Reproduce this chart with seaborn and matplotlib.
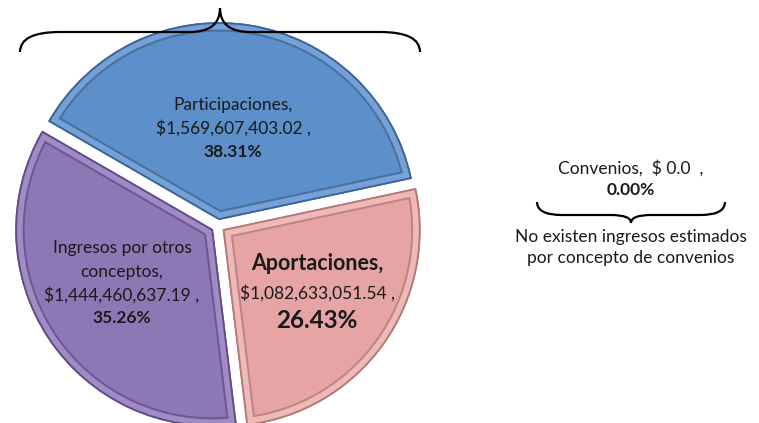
import numpy as np
import matplotlib.pyplot as plt
import seaborn as sns
from matplotlib.path import Path
from matplotlib.patches import PathPatch, Wedge

# datos del grafico
conceptos = ["Participaciones", "Aportaciones", "Ingresos por otros conceptos", "Convenios"]
montos = [1569607403.02, 1082633051.54, 1444460637.19, 0.0]
porcentajes = [38.31, 26.43, 35.26, 0.00]
montos_txt = ["$1,569,607,403.02 ,", "$1,082,633,051.54 ,", "$1,444,460,637.19 ,", "$ 0.0"]

colores = ["#5D8FCA", "#E6A5A4", "#8D77B5"]
bordes = ["#3B659A", "#B27A79", "#5F4D88"]
bandas = ["#75A1D6", "#EFB9B8", "#A08BC4"]
lineas = ["#45709F", "#BC8584", "#6A5896"]

sns.set_theme(style="white")
plt.rcParams['font.family'] = ['Lato', 'DejaVu Sans']

W, H = 759, 423
fig = plt.figure(figsize=(W / 100, H / 100), dpi=100)
ax = fig.add_axes([0, 0, 1, 1])

def Y(y):
    return H - y

centro = (218, Y(226))
radio = 196
sep = 7  # pixeles

vals = [m for m in montos if m > 0]
wedges, _ = ax.pie(vals, colors=colores, startangle=150, counterclock=False,
                   center=centro, radius=radio, explode=[sep] * len(vals),
                   wedgeprops=dict(linewidth=1.3))

# bisel: franja clara y linea oscura por dentro de cada porcion
px = 0.72
for w, b, c1, c2 in zip(wedges, bordes, bandas, lineas):
    w.set_edgecolor(b)
    for lw, col in [(17 * px, c2), (13 * px, c1)]:
        p = Wedge(w.center, w.r, w.theta1, w.theta2, facecolor="none",
                  edgecolor=col, linewidth=lw, joinstyle="miter")
        ax.add_patch(p)
        p.set_clip_path(w)
    p = Wedge(w.center, w.r, w.theta1, w.theta2, facecolor="none",
              edgecolor=b, linewidth=1.3)
    ax.add_patch(p)

ax.set_xlim(0, W)
ax.set_ylim(0, H)
ax.set_aspect('equal')
ax.axis('off')


def llave(x0, x1, y_fin, y_linea, y_punta, r1, r2):
    xm = (x0 + x1) / 2
    pts = [(x0, y_fin), (x0, y_linea), (x0 + r1, y_linea),
           (xm - r2, y_linea),
           (xm, y_linea), (xm, y_punta),
           (xm, y_linea), (xm + r2, y_linea),
           (x1 - r1, y_linea),
           (x1, y_linea), (x1, y_fin)]
    codes = [Path.MOVETO, Path.CURVE3, Path.CURVE3, Path.LINETO,
             Path.CURVE3, Path.CURVE3, Path.CURVE3, Path.CURVE3,
             Path.LINETO, Path.CURVE3, Path.CURVE3]
    pts = [(x, Y(y)) for x, y in pts]
    ax.add_patch(PathPatch(Path(pts, codes), fill=False, lw=1.6, color="black"))


llave(20, 420, 52, 32, 8, 40, 30)
llave(537, 725, 202, 215, 223, 25, 20)

tc = "#1a1a1a"
fs = 12.5
# Participaciones
ax.text(233, Y(105), conceptos[0] + ",", ha="center", va="center", fontsize=fs, color=tc)
ax.text(233, Y(128), montos_txt[0], ha="center", va="center", fontsize=fs, color=tc)
ax.text(233, Y(152), f"{porcentajes[0]:.2f}%", ha="center", va="center", fontsize=fs,
        fontweight="bold", color=tc)

# Ingresos por otros conceptos
ax.text(122, Y(248), "Ingresos por otros", ha="center", va="center", fontsize=fs, color=tc)
ax.text(122, Y(272), "conceptos,", ha="center", va="center", fontsize=fs, color=tc)
ax.text(122, Y(295), montos_txt[2], ha="center", va="center", fontsize=fs, color=tc)
ax.text(122, Y(318), f"{porcentajes[2]:.2f}%", ha="center", va="center", fontsize=fs,
        fontweight="bold", color=tc)

# Aportaciones
ax.text(317, Y(263), conceptos[1] + ",", ha="center", va="center", fontsize=15.5,
        fontweight="bold", color=tc)
ax.text(317, Y(293), montos_txt[1], ha="center", va="center", fontsize=fs, color=tc)
ax.text(317, Y(321), f"{porcentajes[1]:.2f}%", ha="center", va="center", fontsize=17.5,
        fontweight="bold", color=tc)

# Convenios
ax.text(631, Y(168), f"{conceptos[3]},  {montos_txt[3]}  ,", ha="center", va="center",
        fontsize=fs, color=tc)
ax.text(631, Y(190), f"{porcentajes[3]:.2f}%", ha="center", va="center", fontsize=fs,
        fontweight="bold", color=tc)
ax.text(631, Y(237), "No existen ingresos estimados", ha="center", va="center",
        fontsize=fs, color=tc)
ax.text(631, Y(258), "por concepto de convenios", ha="center", va="center",
        fontsize=fs, color=tc)

fig.savefig("out.png", dpi=100, facecolor="white")
